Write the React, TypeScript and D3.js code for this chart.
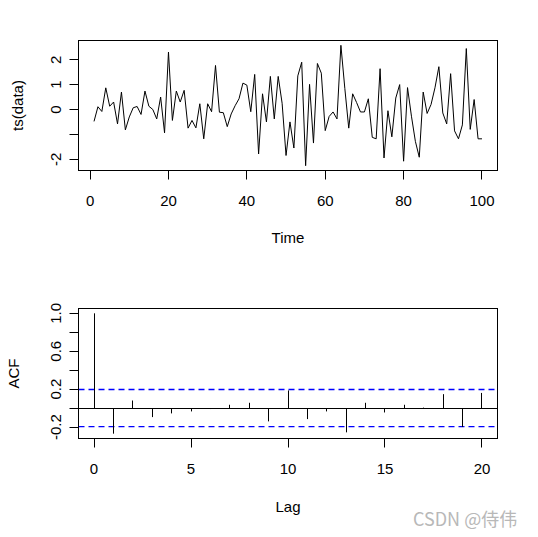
import { useEffect, useRef } from 'react';
import * as d3 from 'd3';

// series, t = 1..100
const series = [
  -0.48, 0.11, -0.08, 0.87, 0.13, 0.3, -0.58, 0.7, -0.82, -0.3,
  0.07, 0.12, -0.2, 0.74, 0.13, 0.0, -0.38, 0.5, -0.94, 2.31,
  -0.44, 0.74, 0.3, 0.77, -0.75, -0.44, -0.74, 0.23, -1.18, 0.23,
  -0.09, 1.77, -0.11, -0.13, -0.69, -0.18, 0.15, 0.43, 1.06, 0.98,
  -0.09, 1.41, -1.79, 0.63, -0.5, 1.33, -0.38, 1.33, 0.25, -1.85,
  -0.5, -1.55, 1.35, 1.9, -2.26, 1.01, -1.35, 1.85, 1.46, -0.85,
  -0.28, -0.1, -0.38, 2.58, 0.85, -0.75, 0.63, 0.28, -0.1, -0.1,
  0.43, -1.12, -1.18, 1.64, -1.95, -0.05, -1.1, 0.46, 1.0, -2.08,
  0.88, -0.27, -1.28, -1.92, 0.7, -0.16, 0.2, 0.87, 1.72, -0.14,
  -0.58, 1.44, -0.86, -1.18, -0.62, 2.45, -0.8, 0.4, -1.18, -1.18,
];

// autocorrelations, lag 0..20
const acfValues = [
  1.0, -0.27, 0.08, -0.095, -0.056, -0.035, -0.01, 0.035, 0.056, -0.14,
  0.186, -0.116, -0.035, -0.256, 0.056, -0.046, 0.035, 0.005, 0.147, -0.2,
  0.16,
];

const timeTicks = [0, 20, 40, 60, 80, 100];
const tsTicks = [-2, -1, 0, 1, 2];
const tsTickLabels = ['-2', '', '0', '1', '2'];
const lagTicks = [0, 5, 10, 15, 20];
const acfTicks = [-0.2, 0.0, 0.2, 0.4, 0.6, 0.8, 1.0];
const acfTickLabels = ['-0.2', '', '0.2', '', '0.6', '', '1.0'];

const W = 538;
const H = 537;
const FONT = 'Liberation Sans, Arial, sans-serif';

// R style range extension (4% each side)
const extend = (lo: number, hi: number): [number, number] => {
  const d = (hi - lo) * 0.04;
  return [lo - d, hi + d];
};

// snap to the middle of a pixel so 1px lines stay sharp
const px = (v: number) => Math.round(v - 0.5) + 0.5;

const App = () => {
  const svgRef = useRef<SVGSVGElement>(null);

  useEffect(() => {
    if (!svgRef.current) return;
    const svg = d3.select(svgRef.current);
    svg.selectAll('*').remove();

    const left = 78.5;
    const right = 497.5;
    const tickLen = 9;

    const drawYAxis = (
      g: d3.Selection<SVGGElement, unknown, null, undefined>,
      y: d3.ScaleLinear<number, number>,
      ticks: number[],
      labels: string[]
    ) => {
      const ax = g.append('g');
      ax.append('line')
        .attr('x1', left).attr('x2', left)
        .attr('y1', px(y(ticks[0]))).attr('y2', px(y(ticks[ticks.length - 1])))
        .attr('stroke', 'black');
      ticks.forEach((t, i) => {
        ax.append('line')
          .attr('x1', left).attr('x2', left - tickLen)
          .attr('y1', px(y(t))).attr('y2', px(y(t)))
          .attr('stroke', 'black');
        if (labels[i]) {
          ax.append('text')
            .attr('transform', `translate(${left - 23},${y(t)}) rotate(-90)`)
            .attr('text-anchor', 'middle')
            .attr('dy', '0.35em')
            .attr('font-size', 15)
            .attr('font-family', FONT)
            .text(labels[i]);
        }
      });
    };

    const drawXAxis = (
      g: d3.Selection<SVGGElement, unknown, null, undefined>,
      x: d3.ScaleLinear<number, number>,
      yPos: number,
      ticks: number[]
    ) => {
      const ax = g.append('g');
      ticks.forEach((t) => {
        ax.append('line')
          .attr('x1', px(x(t))).attr('x2', px(x(t)))
          .attr('y1', yPos).attr('y2', yPos + tickLen)
          .attr('stroke', 'black');
        ax.append('text')
          .attr('x', x(t))
          .attr('y', yPos + 35)
          .attr('text-anchor', 'middle')
          .attr('font-size', 15)
          .attr('font-family', FONT)
          .text(String(t));
      });
    };

    // ---- top panel: the series ----
    const top = svg.append('g');
    const tTop = 40.5;
    const tBot = 170.5;
    const xT = d3.scaleLinear().domain(extend(1, series.length)).range([left, right]);
    const yT = d3
      .scaleLinear()
      .domain(extend(d3.min(series) as number, d3.max(series) as number))
      .range([tBot, tTop]);

    top.append('path')
      .datum(series)
      .attr('fill', 'none')
      .attr('stroke', 'black')
      .attr('stroke-width', 1)
      .attr('d', d3.line<number>().x((_, i) => xT(i + 1)).y((d) => yT(d)));

    top.append('rect')
      .attr('x', left).attr('y', tTop)
      .attr('width', right - left).attr('height', tBot - tTop)
      .attr('fill', 'none').attr('stroke', 'black');

    drawYAxis(top, yT, tsTicks, tsTickLabels);
    drawXAxis(top, xT, tBot, timeTicks);

    top.append('text')
      .attr('x', (left + right) / 2).attr('y', 243)
      .attr('text-anchor', 'middle')
      .attr('font-size', 15).attr('font-family', FONT)
      .text('Time');
    top.append('text')
      .attr('transform', `translate(23,${(tTop + tBot) / 2}) rotate(-90)`)
      .attr('text-anchor', 'middle')
      .attr('font-size', 15).attr('font-family', FONT)
      .text('ts(data)');

    // ---- bottom panel: ACF ----
    const bot = svg.append('g');
    const aTop = 308.5;
    const aBot = 438.5;
    const ci = 1.96 / Math.sqrt(series.length);
    const xA = d3.scaleLinear().domain(extend(0, acfValues.length - 1)).range([left, right]);
    const yA = d3
      .scaleLinear()
      .domain(extend(Math.min(d3.min(acfValues) as number, -ci), 1))
      .range([aBot, aTop]);

    // confidence bounds first, so the spikes sit on top
    [ci, -ci].forEach((c) => {
      bot.append('line')
        .attr('class', 'ci')
        .attr('x1', left).attr('x2', right)
        .attr('y1', yA(c)).attr('y2', yA(c))
        .style('stroke', 'rgb(0,0,255)')
        .style('stroke-width', '1.3px')
        .style('stroke-dasharray', '6 4');
    });

    bot.append('line')
      .attr('x1', left).attr('x2', right)
      .attr('y1', px(yA(0))).attr('y2', px(yA(0)))
      .attr('stroke', 'black');

    bot.selectAll('line.spike')
      .data(acfValues)
      .join('line')
      .attr('class', 'spike')
      .attr('x1', (_, i) => px(xA(i))).attr('x2', (_, i) => px(xA(i)))
      .attr('y1', px(yA(0))).attr('y2', (d) => yA(d))
      .attr('stroke', 'black')
      .attr('stroke-width', 1);

    bot.append('rect')
      .attr('x', left).attr('y', aTop)
      .attr('width', right - left).attr('height', aBot - aTop)
      .attr('fill', 'none').attr('stroke', 'black');

    drawYAxis(bot, yA, acfTicks, acfTickLabels);
    drawXAxis(bot, xA, aBot, lagTicks);

    bot.append('text')
      .attr('x', (left + right) / 2).attr('y', 512)
      .attr('text-anchor', 'middle')
      .attr('font-size', 15).attr('font-family', FONT)
      .text('Lag');
    bot.append('text')
      .attr('transform', `translate(19,${(aTop + aBot) / 2}) rotate(-90)`)
      .attr('text-anchor', 'middle')
      .attr('font-size', 15).attr('font-family', FONT)
      .text('ACF');

    // watermark
    svg.append('text')
      .attr('x', 413).attr('y', 526)
      .attr('font-size', 18)
      .attr('font-family', '"Noto Sans CJK SC", "Noto Sans", sans-serif')
      .attr('fill', '#b8b8b8')
      .text('CSDN @侍伟');
  }, []);

  return (
    <svg
      ref={svgRef}
      width={W}
      height={H}
      style={{ position: 'absolute', left: 0, top: 0, background: 'white', display: 'block' }}
    />
  );
};

export default App;
